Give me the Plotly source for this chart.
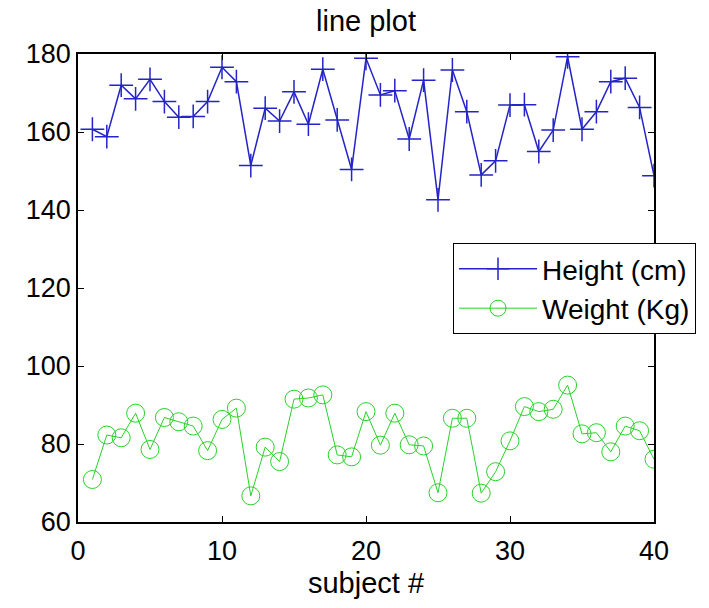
import plotly.graph_objects as go

subjects = list(range(1, 41))
height_cm = [160.7, 158.8, 172.0, 168.5, 173.5, 167.8, 163.8, 164.0, 167.8, 176.6,
             172.9, 151.4, 166.1, 162.8, 170.3, 162.0, 176.1, 163.1, 150.4, 178.9,
             169.5, 170.6, 158.2, 173.3, 142.6, 175.9, 165.2, 149.0, 152.6, 166.9,
             167.0, 155.0, 160.5, 179.3, 160.7, 165.2, 172.9, 173.8, 166.3, 148.8]
weight_kg = [70.9, 82.3, 81.6, 87.9, 78.6, 86.8, 85.7, 84.6, 78.3, 86.3,
             89.2, 66.7, 79.2, 75.5, 91.5, 91.8, 92.6, 77.2, 76.7, 88.3,
             79.7, 87.9, 79.8, 79.5, 67.5, 86.6, 86.6, 67.4, 72.9, 80.8,
             89.6, 88.3, 88.9, 95.1, 82.6, 82.9, 78.0, 84.6, 83.4, 76.1]
x_ticks = [0, 10, 20, 30, 40]
y_ticks = [60, 80, 100, 120, 140, 160, 180]

blue = "rgb(36,36,200)"
green = "rgb(40,210,40)"
font_family = "Liberation Sans, Arial, sans-serif"

fig = go.Figure()
fig.add_trace(go.Scatter(
    x=subjects, y=height_cm, name="Height (cm)", mode="lines+markers",
    line=dict(color=blue, width=1.5),
    marker=dict(symbol="cross-thin", size=17, line=dict(color=blue, width=1.5)),
))
fig.add_trace(go.Scatter(
    x=subjects, y=weight_kg, name="Weight (Kg)", mode="lines+markers",
    line=dict(color=green, width=1),
    marker=dict(symbol="circle-open", size=18, color=green, line=dict(color=green, width=1)),
))

fig.update_layout(
    width=709, height=608,
    margin=dict(l=78, r=55, t=54, b=86),
    paper_bgcolor="white", plot_bgcolor="white",
    font=dict(family=font_family, size=27, color="black"),
    title=dict(text="line plot", x=(78 + 654) / 2 / 709, xanchor="center",
               y=1 - 21 / 608, yanchor="middle", yref="container",
               font=dict(size=29)),
    showlegend=True,
    legend=dict(x=(453 - 78) / 576, y=0.596, xanchor="left", yanchor="top",
                bgcolor="white", bordercolor="black", borderwidth=1,
                font=dict(size=28), itemwidth=78, tracegroupgap=0),
)
fig.update_xaxes(
    range=[0, 40], tickvals=x_ticks, showgrid=False, zeroline=False,
    showline=True, linecolor="black", linewidth=1.5, mirror="ticks",
    ticks="inside", ticklen=6, tickcolor="black", tickfont=dict(size=27),
    ticklabelstandoff=4,
    title=dict(text="subject #", standoff=8, font=dict(size=29)),
)
fig.update_yaxes(
    range=[60, 180], tickvals=y_ticks, showgrid=False, zeroline=False,
    showline=True, linecolor="black", linewidth=1.5, mirror="ticks",
    ticks="inside", ticklen=6, tickcolor="black", tickfont=dict(size=27),
)

fig.write_html("out.html")
